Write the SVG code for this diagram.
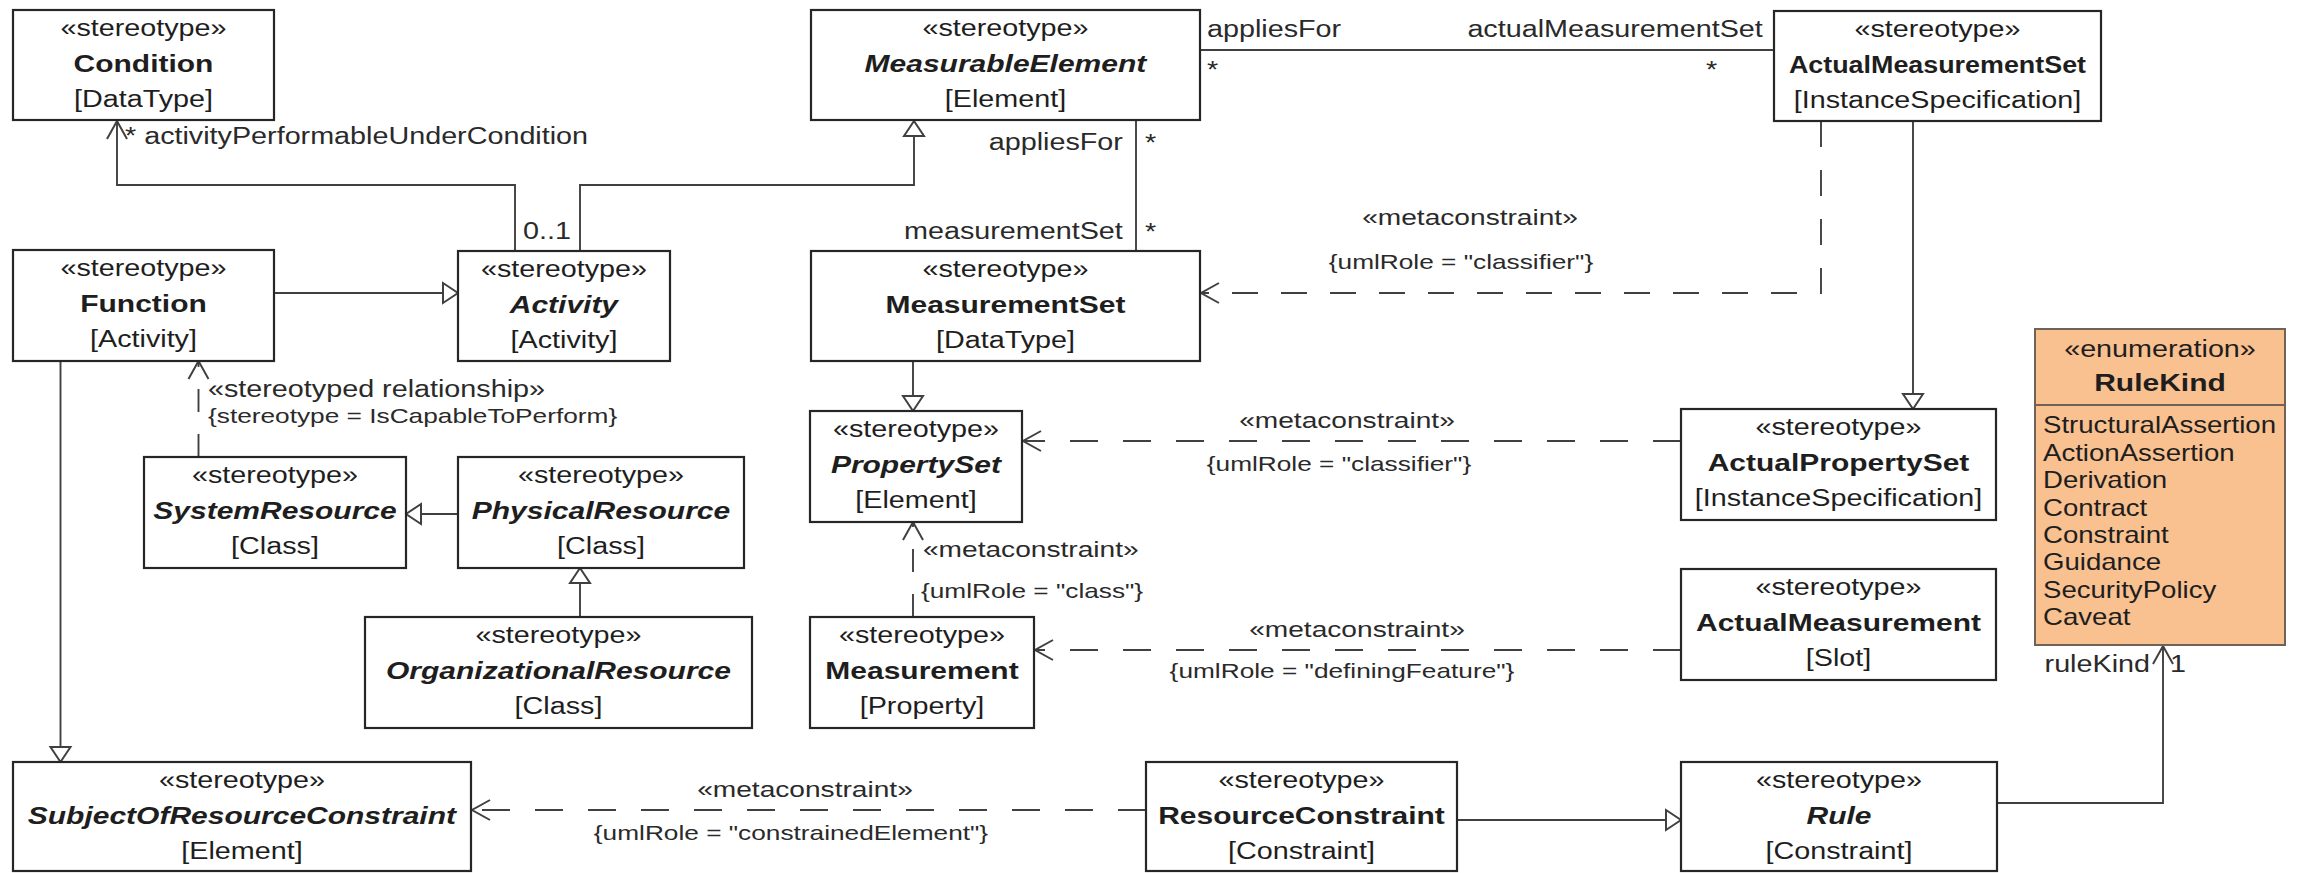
<svg xmlns="http://www.w3.org/2000/svg" width="2310" height="873" viewBox="0 0 2310 873">
<defs>
  <style>
    .bg { fill: #ffffff; }
    .box { fill: #ffffff; stroke: #262626; stroke-width: 2.2; }
    .enum { fill: #f9c090; stroke: #6e6259; stroke-width: 2; }
    .sep { stroke: #6e6259; stroke-width: 2; fill: none; }
    .ln { fill: none; stroke: #404040; stroke-width: 1.9; }
    .dh { stroke-dasharray: 28 25; }
    .dv { stroke-dasharray: 23 22; }
    .dm { stroke-dasharray: 26 23; }
    text { font-family: "Liberation Sans", Arial, Helvetica, sans-serif; fill: #1e1e1e;
           transform-box: fill-box; transform-origin: 50% 50%; transform: scaleX(1.25); }
    .st { font-size: 23px; text-anchor: middle; }
    .nm { font-size: 24px; font-weight: bold; text-anchor: middle; }
    .it { font-style: italic; }
    .narrow { transform: scaleX(1.12); }
    .lbl { font-size: 23px; fill: #2a2a2a; }
    .mc { font-size: 22.5px; fill: #2a2a2a; text-anchor: middle; }
    .ur { font-size: 21px; fill: #2a2a2a; text-anchor: middle; }
    .lit { font-size: 23px; text-anchor: start; transform-origin: 0 50%; transform: scaleX(1.2); }
    .l { text-anchor: start; transform-origin: 0 50%; }
    .r { text-anchor: end; transform-origin: 100% 50%; }
  </style>
  <marker id="open" markerUnits="userSpaceOnUse" markerWidth="24" markerHeight="24" viewBox="-21 -12 24 24" refX="0" refY="0" orient="auto" style="overflow:visible">
    <path d="M-18,-10 L0,0 L-18,10" fill="none" stroke="#404040" stroke-width="2"/>
  </marker>
  <marker id="tri" markerUnits="userSpaceOnUse" markerWidth="24" markerHeight="26" viewBox="-20 -13 24 26" refX="0" refY="0" orient="auto" style="overflow:visible">
    <path d="M-15,-10 L0,0 L-15,10 Z" fill="#ffffff" stroke="#404040" stroke-width="2"/>
  </marker>
</defs>

<rect class="bg" x="0" y="0" width="2310" height="873"/>

<!-- connectors -->
<g id="connectors">
  <!-- Activity -> Condition association -->
  <path class="ln" d="M515,251 V185 H117 V121" marker-end="url(#open)"/>
  <text class="lbl l" x="125" y="144">* activityPerformableUnderCondition</text>
  <text class="lbl l" x="523" y="239">0..1</text>

  <!-- Activity generalizes MeasurableElement -->
  <path class="ln" d="M580,251 V185 H914 V121" marker-end="url(#tri)"/>

  <!-- Function generalizes Activity -->
  <path class="ln" d="M274,293 H458" marker-end="url(#tri)"/>

  <!-- MeasurableElement - MeasurementSet association -->
  <path class="ln" d="M1136,120 V251"/>
  <text class="lbl r" x="1123" y="150">appliesFor</text>
  <text class="lbl l" x="1145" y="151">*</text>
  <text class="lbl r" x="1123" y="239">measurementSet</text>
  <text class="lbl l" x="1145" y="240">*</text>

  <!-- MeasurableElement - ActualMeasurementSet association -->
  <path class="ln" d="M1200,50 H1774"/>
  <text class="lbl l" x="1207" y="37">appliesFor</text>
  <text class="lbl l" x="1207" y="78">*</text>
  <text class="lbl r" x="1763" y="37">actualMeasurementSet</text>
  <text class="lbl l" x="1706" y="78">*</text>

  <!-- ActualMeasurementSet -> MeasurementSet metaconstraint -->
  <path class="ln dm" d="M1821,121 V293 H1201" marker-end="url(#open)"/>
  <text class="mc" x="1470" y="225">«metaconstraint»</text>
  <text class="ur" x="1461" y="269">{umlRole = "classifier"}</text>

  <!-- ActualMeasurementSet generalizes ActualPropertySet -->
  <path class="ln" d="M1913,121 V409" marker-end="url(#tri)"/>

  <!-- MeasurementSet generalizes PropertySet -->
  <path class="ln" d="M913,361 V411" marker-end="url(#tri)"/>

  <!-- ActualPropertySet -> PropertySet metaconstraint -->
  <path class="ln dh" d="M1681,441 H1023" marker-end="url(#open)"/>
  <text class="mc" x="1347" y="428">«metaconstraint»</text>
  <text class="ur" x="1339" y="471">{umlRole = "classifier"}</text>

  <!-- Measurement -> PropertySet metaconstraint -->
  <path class="ln dv" d="M913,617 V522" marker-end="url(#open)"/>
  <text class="mc l" x="923" y="557">«metaconstraint»</text>
  <text class="ur l" x="921" y="598">{umlRole = "class"}</text>

  <!-- ActualMeasurement -> Measurement metaconstraint -->
  <path class="ln dh" d="M1681,650 H1035" marker-end="url(#open)"/>
  <text class="mc" x="1357" y="637">«metaconstraint»</text>
  <text class="ur" x="1342" y="678">{umlRole = "definingFeature"}</text>

  <!-- SystemResource -> Function stereotyped relationship -->
  <path class="ln dv" d="M198.5,457 V361" marker-end="url(#open)"/>
  <text class="lbl l" x="208" y="397">«stereotyped relationship»</text>
  <text class="ur l" x="208" y="423">{stereotype = IsCapableToPerform}</text>

  <!-- PhysicalResource generalizes SystemResource -->
  <path class="ln" d="M458,514 H406" marker-end="url(#tri)"/>

  <!-- OrganizationalResource generalizes PhysicalResource -->
  <path class="ln" d="M580,617 V568" marker-end="url(#tri)"/>

  <!-- Function generalizes SubjectOfResourceConstraint -->
  <path class="ln" d="M60.5,361 V762" marker-end="url(#tri)"/>

  <!-- ResourceConstraint -> SubjectOfResourceConstraint metaconstraint -->
  <path class="ln dh" d="M1146,810 H472" marker-end="url(#open)"/>
  <text class="mc" x="805" y="797">«metaconstraint»</text>
  <text class="ur" x="791" y="840">{umlRole = "constrainedElement"}</text>

  <!-- ResourceConstraint generalizes Rule -->
  <path class="ln" d="M1457,820 H1681" marker-end="url(#tri)"/>

  <!-- Rule -> RuleKind association -->
  <path class="ln" d="M1997,803 H2163 V646" marker-end="url(#open)"/>
  <text class="lbl r" x="2150" y="672">ruleKind</text>
  <text class="lbl l" x="2170" y="672">1</text>
</g>

<!-- nodes -->
<g id="condition">
  <rect class="box" x="13" y="10" width="261" height="110"/>
  <text class="st" x="143.5" y="36">«stereotype»</text>
  <text class="nm" x="143.5" y="72">Condition</text>
  <text class="st" x="143.5" y="107">[DataType]</text>
</g>

<g id="function">
  <rect class="box" x="13" y="250" width="261" height="111"/>
  <text class="st" x="143.5" y="276">«stereotype»</text>
  <text class="nm" x="143.5" y="312">Function</text>
  <text class="st" x="143.5" y="347">[Activity]</text>
</g>

<g id="activity">
  <rect class="box" x="458" y="251" width="212" height="110"/>
  <text class="st" x="564" y="277">«stereotype»</text>
  <text class="nm it" x="564" y="313">Activity</text>
  <text class="st" x="564" y="348">[Activity]</text>
</g>

<g id="measurableElement">
  <rect class="box" x="811" y="10" width="389" height="110"/>
  <text class="st" x="1005.5" y="36">«stereotype»</text>
  <text class="nm it" x="1005.5" y="72">MeasurableElement</text>
  <text class="st" x="1005.5" y="107">[Element]</text>
</g>

<g id="actualMeasurementSet">
  <rect class="box" x="1774" y="11" width="327" height="110"/>
  <text class="st" x="1937.5" y="37">«stereotype»</text>
  <text class="nm narrow" x="1937.5" y="73">ActualMeasurementSet</text>
  <text class="st" x="1937.5" y="108">[InstanceSpecification]</text>
</g>

<g id="measurementSet">
  <rect class="box" x="811" y="251" width="389" height="110"/>
  <text class="st" x="1005.5" y="277">«stereotype»</text>
  <text class="nm" x="1005.5" y="313">MeasurementSet</text>
  <text class="st" x="1005.5" y="348">[DataType]</text>
</g>

<g id="systemResource">
  <rect class="box" x="144" y="457" width="262" height="111"/>
  <text class="st" x="275" y="483">«stereotype»</text>
  <text class="nm it" x="275" y="519">SystemResource</text>
  <text class="st" x="275" y="554">[Class]</text>
</g>

<g id="physicalResource">
  <rect class="box" x="458" y="457" width="286" height="111"/>
  <text class="st" x="601" y="483">«stereotype»</text>
  <text class="nm it" x="601" y="519">PhysicalResource</text>
  <text class="st" x="601" y="554">[Class]</text>
</g>

<g id="organizationalResource">
  <rect class="box" x="365" y="617" width="387" height="111"/>
  <text class="st" x="558.5" y="643">«stereotype»</text>
  <text class="nm it" x="558.5" y="679">OrganizationalResource</text>
  <text class="st" x="558.5" y="714">[Class]</text>
</g>

<g id="propertySet">
  <rect class="box" x="810" y="411" width="212" height="111"/>
  <text class="st" x="916" y="437">«stereotype»</text>
  <text class="nm it" x="916" y="473">PropertySet</text>
  <text class="st" x="916" y="508">[Element]</text>
</g>

<g id="measurement">
  <rect class="box" x="810" y="617" width="224" height="111"/>
  <text class="st" x="922" y="643">«stereotype»</text>
  <text class="nm" x="922" y="679">Measurement</text>
  <text class="st" x="922" y="714">[Property]</text>
</g>

<g id="actualPropertySet">
  <rect class="box" x="1681" y="409" width="315" height="111"/>
  <text class="st" x="1838.5" y="435">«stereotype»</text>
  <text class="nm" x="1838.5" y="471">ActualPropertySet</text>
  <text class="st" x="1838.5" y="506">[InstanceSpecification]</text>
</g>

<g id="actualMeasurement">
  <rect class="box" x="1681" y="569" width="315" height="111"/>
  <text class="st" x="1838.5" y="595">«stereotype»</text>
  <text class="nm" x="1838.5" y="631">ActualMeasurement</text>
  <text class="st" x="1838.5" y="666">[Slot]</text>
</g>

<g id="ruleKind">
  <rect class="enum" x="2035" y="329" width="250" height="316"/>
  <line class="sep" x1="2035" y1="405" x2="2285" y2="405"/>
  <text class="st" x="2160" y="357">«enumeration»</text>
  <text class="nm" x="2160" y="391">RuleKind</text>
  <text class="lit" x="2043" y="433">StructuralAssertion</text>
  <text class="lit" x="2043" y="461">ActionAssertion</text>
  <text class="lit" x="2043" y="488">Derivation</text>
  <text class="lit" x="2043" y="516">Contract</text>
  <text class="lit" x="2043" y="543">Constraint</text>
  <text class="lit" x="2043" y="570">Guidance</text>
  <text class="lit" x="2043" y="598">SecurityPolicy</text>
  <text class="lit" x="2043" y="625">Caveat</text>
</g>

<g id="subjectOfResourceConstraint">
  <rect class="box" x="13" y="762" width="458" height="109"/>
  <text class="st" x="242" y="788">«stereotype»</text>
  <text class="nm it" x="242" y="824">SubjectOfResourceConstraint</text>
  <text class="st" x="242" y="859">[Element]</text>
</g>

<g id="resourceConstraint">
  <rect class="box" x="1146" y="762" width="311" height="109"/>
  <text class="st" x="1301.5" y="788">«stereotype»</text>
  <text class="nm" x="1301.5" y="824">ResourceConstraint</text>
  <text class="st" x="1301.5" y="859">[Constraint]</text>
</g>

<g id="rule">
  <rect class="box" x="1681" y="762" width="316" height="109"/>
  <text class="st" x="1839" y="788">«stereotype»</text>
  <text class="nm it" x="1839" y="824">Rule</text>
  <text class="st" x="1839" y="859">[Constraint]</text>
</g>
</svg>
